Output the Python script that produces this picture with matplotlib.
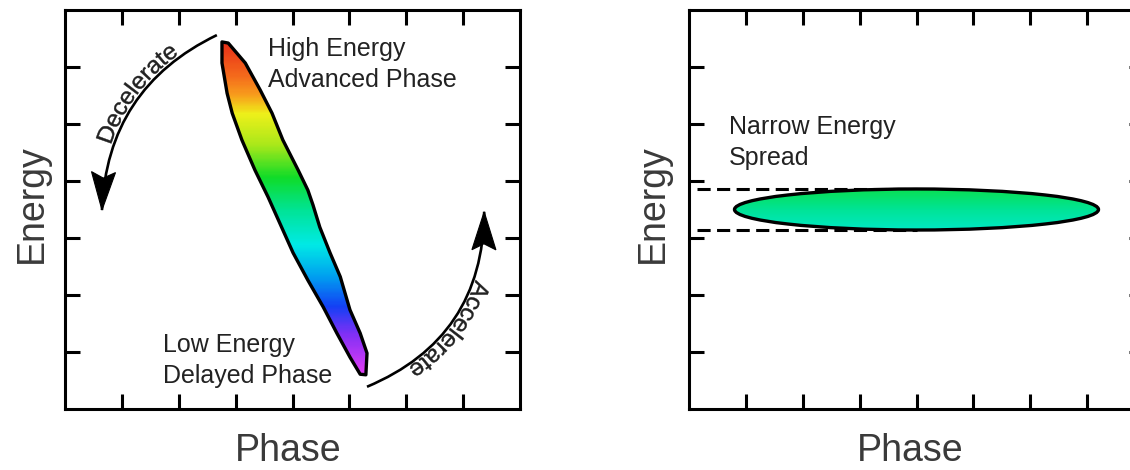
import numpy as np
import matplotlib
matplotlib.use("Agg")
import matplotlib.pyplot as plt
from matplotlib.patches import Polygon, Ellipse, FancyArrowPatch, PathPatch
from matplotlib.path import Path
from matplotlib.textpath import TextPath
from matplotlib.font_manager import FontProperties
from matplotlib.colors import LinearSegmentedColormap, Normalize
from matplotlib.transforms import IdentityTransform

plt.rcParams['font.family'] = ['Liberation Sans', 'DejaVu Sans']

# ---------------- data ----------------
phase_limits = (0, 8)
energy_limits = (0, 7)
phase_ticks = [1, 2, 3, 4, 5, 6, 7]
energy_ticks = [1, 2, 3, 4, 5, 6]

# left panel: bunch outline (phase, energy)
bunch_phase = [2.76, 2.76, 2.85, 2.94, 3.11, 3.34, 3.57, 3.75, 4.01, 4.27, 4.54, 4.78, 5.01, 5.19, 5.29,
               5.31, 5.19, 5.01, 4.84, 4.66, 4.48, 4.36, 4.27, 4.10, 3.83, 3.64, 3.43, 3.17, 2.87]
bunch_energy = [6.44, 6.07, 5.54, 5.19, 4.72, 4.19, 3.72, 3.32, 2.74, 2.26, 1.79, 1.33, 0.91, 0.61, 0.60,
                0.98, 1.33, 1.74, 2.32, 2.74, 3.19, 3.58, 3.84, 4.19, 4.72, 5.19, 5.60, 6.07, 6.42]

# energy -> colour stops
color_energy = [0.65, 1.30, 1.79, 2.32, 2.88, 3.49, 4.07, 4.63, 5.19, 5.51, 5.86, 6.44]
color_hex = ['#DC3CF5', '#8030F5', '#1440F5', '#00A0F0', '#00EAE6', '#00E496',
             '#10DC28', '#A8E81A', '#EEF01A', '#F8A01C', '#F56A1C', '#E83018']

# arrows (start phase, start energy) -> (tip phase, tip energy), curvature
decel_start = (2.67, 6.56)
decel_tip = (0.65, 3.49)
decel_rad = 0.30
accel_start = (5.31, 0.39)
accel_tip = (7.37, 3.46)
accel_rad = 0.33

# right panel: compressed bunch
spread_center = (4.0, 3.5)
spread_width = 6.4
spread_height = 0.72
spread_lines = [3.86, 3.14]
spread_line_phase = [0.14, 4.0]

# annotations (position = left edge, baseline of last line)
label_high = "High Energy\nAdvanced Phase"
label_high_pos = (3.57, 5.65)
label_low = "Low Energy\nDelayed Phase"
label_low_pos = (1.72, 0.46)
label_narrow = "Narrow Energy\nSpread"
label_narrow_pos = (0.70, 4.28)

# ---------------- figure ----------------
W, H = 1130, 470
fig = plt.figure(figsize=(W / 100, H / 100), dpi=100)
axL = fig.add_axes([65 / W, 61 / H, 455 / W, 399 / H])
axR = fig.add_axes([689 / W, 61 / H, 455 / W, 399 / H])

cmap = LinearSegmentedColormap.from_list(
    'energy', list(zip((np.array(color_energy) - color_energy[0]) / (color_energy[-1] - color_energy[0]), color_hex)))
norm = Normalize(vmin=color_energy[0], vmax=color_energy[-1])

label_color = '#3a3a3a'
text_color = '#222222'

for ax in (axL, axR):
    ax.set_xlim(*phase_limits)
    ax.set_ylim(*energy_limits)
    ax.set_xticks(phase_ticks)
    ax.set_yticks(energy_ticks)
    ax.tick_params(direction='in', length=10.5, width=2.2, top=True, right=True,
                   labelbottom=False, labelleft=False, color='black')
    for sp in ax.spines.values():
        sp.set_linewidth(2.2)
        sp.set_color('black')
    ax.patch.set_facecolor('white')


def gradient_fill(ax, patch, x0, x1, y0, y1):
    grad = np.linspace(y0, y1, 300)[:, None] * np.ones((1, 2))
    im = ax.imshow(grad, extent=[x0, x1, y0, y1], origin='lower', cmap=cmap, norm=norm,
                   aspect='auto', interpolation='bilinear', zorder=3)
    im.set_clip_path(patch)


# ---- left panel ----
bunch = Polygon(np.column_stack([bunch_phase, bunch_energy]), closed=True, fc='none',
                ec='black', lw=2.4, joinstyle='round', zorder=4)
axL.add_patch(bunch)
gradient_fill(axL, bunch, min(bunch_phase), max(bunch_phase), min(bunch_energy), max(bunch_energy))


def bezier_ctrl(ax, start, tip, rad):
    p0 = ax.transData.transform(start)
    p2 = ax.transData.transform(tip)
    mid = (p0 + p2) / 2
    d = p2 - p0
    p1 = mid + rad * np.array([d[1], -d[0]])
    return p0, p1, p2


def curved_arrow(ax, start, tip, rad):
    arr = FancyArrowPatch(posA=start, posB=tip, connectionstyle=f"arc3,rad={rad}",
                          arrowstyle='-', lw=1.9, color='black', shrinkA=0, shrinkB=0,
                          capstyle='butt', zorder=5)
    ax.add_patch(arr)
    # dart-shaped arrow head in pixel space
    p0, p1, p2 = bezier_ctrl(ax, start, tip, rad)
    d = p2 - p1
    d /= np.hypot(*d)
    n = np.array([-d[1], d[0]])
    L, w, notch = 38.0, 12.0, 6.0
    head = np.array([p2, p2 - L * d + w * n, p2 - (L - notch) * d, p2 - L * d - w * n])
    fig.add_artist(Polygon(head, closed=True, transform=IdentityTransform(), fc='black',
                           ec='black', lw=0.8, joinstyle='miter', zorder=6))


def text_along_arc(ax, start, tip, rad, text, frac, offset_pt, size_pt, stretch=1.0):
    p0, p1, p2 = bezier_ctrl(ax, start, tip, rad)
    t = np.linspace(0, 1, 2001)[:, None]
    B = (1 - t) ** 2 * p0 + 2 * (1 - t) * t * p1 + t ** 2 * p2
    B = B[::-1]
    seg = np.hypot(*np.diff(B, axis=0).T)
    s = np.concatenate([[0], np.cumsum(seg)])
    tang = np.gradient(B, axis=0)
    tang /= np.hypot(tang[:, 0], tang[:, 1])[:, None]
    px = fig.dpi / 72
    tp = TextPath((0, 0), text, size=size_pt * px, prop=FontProperties(family='Liberation Sans'))
    v = tp.vertices.copy()
    width = tp.get_extents().x1 * stretch
    sc = frac * s[-1] - width / 2 + v[:, 0] * stretch
    x = np.interp(sc, s, B[:, 0])
    y = np.interp(sc, s, B[:, 1])
    tx = np.interp(sc, s, tang[:, 0])
    ty = np.interp(sc, s, tang[:, 1])
    nn = np.hypot(tx, ty)
    tx, ty = tx / nn, ty / nn
    off = v[:, 1] + offset_pt * px
    X = x - off * ty
    Y = y + off * tx
    patch = PathPatch(Path(np.column_stack([X, Y]), tp.codes), transform=IdentityTransform(),
                      fc=text_color, ec=text_color, lw=0.3)
    fig.add_artist(patch)


curved_arrow(axL, decel_start, decel_tip, decel_rad)
curved_arrow(axL, accel_start, accel_tip, accel_rad)
text_along_arc(axL, decel_start, decel_tip, decel_rad, "Decelerate", 0.55, 2.0, 17.0)
text_along_arc(axL, accel_start, accel_tip, accel_rad, "Accelerate", 0.55, 1.5, 17.0)

axL.text(*label_high_pos, label_high, fontsize=18, color=text_color, ha='left', va='baseline',
         linespacing=1.35)
axL.text(*label_low_pos, label_low, fontsize=18, color=text_color, ha='left', va='baseline',
         linespacing=1.35)

# ---- right panel ----
for e in spread_lines:
    axR.plot(spread_line_phase, [e, e], color='black', lw=2.2, ls=(0, (4.3, 2.1)), zorder=2)
ell = Ellipse(spread_center, spread_width, spread_height, fc='none', ec='black', lw=2.4, zorder=4)
axR.add_patch(ell)
gradient_fill(axR, ell, spread_center[0] - spread_width / 2, spread_center[0] + spread_width / 2,
              spread_center[1] - spread_height / 2, spread_center[1] + spread_height / 2)
axR.text(*label_narrow_pos, label_narrow, fontsize=18, color=text_color, ha='left', va='baseline',
         linespacing=1.35)

# ---- axis labels ----
for ax, ex, px_ in ((axL, -0.073, 0.49), (axR, -0.079, 0.486)):
    ax.text(ex, 0.515, 'Energy', rotation=90, ha='center', va='center', fontsize=27,
            color=label_color, transform=ax.transAxes)
    ax.text(px_, -0.130, 'Phase', ha='center', va='baseline', fontsize=27,
            color=label_color, transform=ax.transAxes)

fig.savefig('out.png', dpi=100, facecolor='white')
